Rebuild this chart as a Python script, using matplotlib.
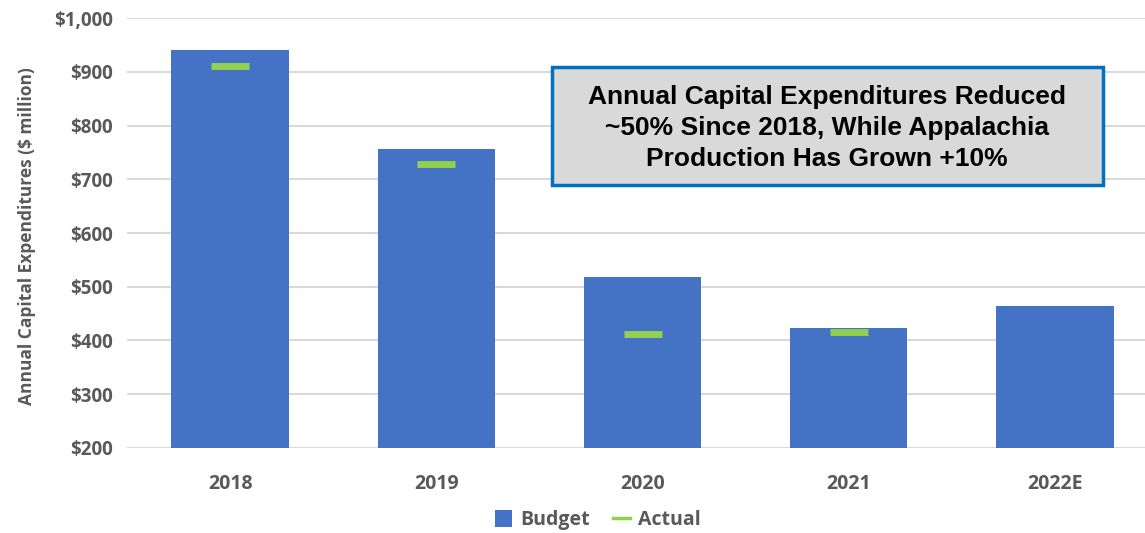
import matplotlib.pyplot as plt
from matplotlib.patches import Rectangle, Patch
from matplotlib.lines import Line2D
import numpy as np

# data ($ million)
years = ['2018', '2019', '2020', '2021', '2022E']
budget = [940, 756, 518, 423, 464]
actual = [910, 728, 412, 415, np.nan]
y_ticks = [200, 300, 400, 500, 600, 700, 800, 900, 1000]

blue = '#4472C4'
green = '#92D050'
gray = '#595959'
font = 'Open Sans'

fig = plt.figure(figsize=(11.45, 5.33), dpi=100)
ax = fig.add_axes([0.111, 0.1595, 0.889, 0.8067])

x = np.arange(len(years))
ax.bar(x, budget, width=0.57, color=blue, zorder=2)
ax.plot(x, actual, linestyle='none', marker='_', markersize=27,
        markeredgewidth=5, color=green, zorder=3)

ax.set_ylim(200, 1000)
ax.set_xlim(-0.5, 4.437)
ax.set_yticks(y_ticks)
ax.set_yticklabels(['${:,}'.format(v) for v in y_ticks])
ax.set_xticks(x)
ax.set_xticklabels(years)
ax.grid(axis='y', color='#D9D9D9', linewidth=1.5, zorder=0)
ax.set_axisbelow(True)
for s in ax.spines.values():
    s.set_visible(False)
ax.tick_params(length=0, pad=10)
ax.tick_params(axis='x', pad=19)
for lab in ax.get_yticklabels():
    lab.set(fontfamily=font, fontweight='bold', fontsize=13.5, color=gray)
for lab in ax.get_xticklabels():
    lab.set(fontfamily=font, fontweight='bold', fontsize=14, color=gray)

fig.text(0.0236, 0.557, 'Annual Capital Expenditures ($ million)', rotation=90,
         ha='center', va='center', fontfamily=font, fontweight='bold',
         fontsize=12.5, color=gray)

# callout box
fig.patches.append(Rectangle((0.482, 0.653), 0.481, 0.221, transform=fig.transFigure,
                             facecolor='#D9D9D9', edgecolor='#0070C0', linewidth=2.5))
fig.text(0.7225, 0.760, 'Annual Capital Expenditures Reduced\n~50% Since 2018, While Appalachia\nProduction Has Grown +10%',
         ha='center', va='center', fontfamily='Liberation Sans', fontweight='bold',
         fontsize=19, linespacing=1.37, color='black')

handles = [Patch(facecolor=blue), Line2D([0], [0], color=green, linewidth=2.5)]
fig.legend(handles, ['Budget', 'Actual'], loc='center', bbox_to_anchor=(0.522, 0.024),
           ncol=2, frameon=False, handlelength=0.9, handleheight=0.9, handletextpad=0.4,
           columnspacing=1.2, prop={'family': font, 'weight': 'bold', 'size': 14})
for t in fig.legends[0].get_texts():
    t.set_color(gray)

fig.savefig('out.png', dpi=100)
